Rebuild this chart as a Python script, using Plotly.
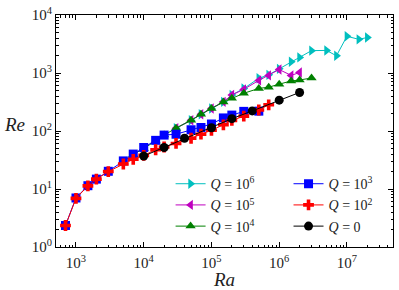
import plotly.graph_objects as go

# ---- data ----
ra_q6 = [3e4, 5e4, 7e4, 1e5, 1.5e5, 2e5, 3e5, 5e5, 7e5, 1e6, 1.5e6, 2e6, 3e6, 5e6, 7e6, 1e7, 1.5e7, 2e7]
re_q6 = [112, 153, 195, 245, 318, 418, 540, 810, 930, 1180, 1560, 1858, 2430, 2450, 1980, 4300, 3800, 4100]

ra_q5 = [3e4, 5e4, 7e4, 1e5, 1.5e5, 2e5, 3e5, 5e5, 7e5, 1e6, 1.5e6, 2e6]
re_q5 = [112, 153, 195, 245, 318, 418, 522, 745, 910, 1148, 910, 1020]

ra_q4 = [7e3, 1e4, 1.5e4, 2e4, 3e4, 5e4, 7e4, 1e5, 1.5e5, 2e5, 3e5, 5e5, 7e5, 1e6, 1.5e6, 2e6, 3e6]
re_q4 = [39, 50, 67, 85, 112, 153, 195, 245, 315, 367, 447, 542, 570, 641, 730, 757, 820]

ra_q3 = [700, 1e3, 1.5e3, 2e3, 3e3, 5e3, 7e3, 1e4, 1.5e4, 2e4, 3e4, 5e4, 7e4, 1e5, 1.5e5, 2e5, 3e5, 5e5]
re_q3 = [2.35, 7.0, 11.4, 14.8, 20.2, 30.5, 40, 52, 69, 85, 88, 105, 115, 132, 168, 188, 218, 220]

ra_q2 = [700, 1e3, 1.5e3, 2e3, 3e3, 5e3, 7e3, 1e4, 1.5e4, 2e4, 3e4, 5e4, 7e4, 1e5, 1.5e5, 2e5, 3e5, 5e5, 7e5]
re_q2 = [2.35, 6.9, 11.3, 14.8, 20, 27, 32.5, 38, 47.5, 53, 61, 75, 88, 103, 128, 152, 180, 230, 283]

ra_q0 = [1e4, 2e4, 4e4, 1e5, 2e5, 4e5, 1e6, 2e6]
re_q0 = [37, 52, 75, 114, 163, 222, 340, 462]

labels = ["<i>Q</i> = 10<sup>6</sup>", "<i>Q</i> = 10<sup>5</sup>", "<i>Q</i> = 10<sup>4</sup>",
          "<i>Q</i> = 10<sup>3</sup>", "<i>Q</i> = 10<sup>2</sup>", "<i>Q</i> = 0"]
colors = ["#00BFBF", "#BF00BF", "#008000", "#0000FF", "#FF0000", "#000000"]
symbols = ["triangle-right", "triangle-left", "triangle-up", "square", "cross", "circle"]

x_tickvals = [1e3, 1e4, 1e5, 1e6, 1e7]
x_ticktext = ["10<sup>3</sup>", "10<sup>4</sup>", "10<sup>5</sup>", "10<sup>6</sup>", "10<sup>7</sup>"]
y_tickvals = [1, 10, 100, 1000, 10000]
y_ticktext = ["10<sup>0</sup>", "10<sup>1</sup>", "10<sup>2</sup>", "10<sup>3</sup>", "10<sup>4</sup>"]

series = [(ra_q6, re_q6), (ra_q5, re_q5), (ra_q4, re_q4), (ra_q3, re_q3), (ra_q2, re_q2), (ra_q0, re_q0)]

FONT = "Liberation Serif"

fig = go.Figure()
for i, ((xs, ys), name, c, s) in enumerate(zip(series, labels, colors, symbols)):
    fig.add_trace(go.Scatter(
        x=xs, y=ys, mode="lines+markers", name=name,
        line=dict(color=c, width=1),
        marker=dict(color=c, symbol=s, size=9, line=dict(width=0)),
        legend="legend" if i < 3 else "legend2",
    ))

axis_common = dict(
    type="log", showline=True, linecolor="black", linewidth=1, mirror="allticks",
    ticks="inside", ticklen=5, tickcolor="black", showgrid=False, zeroline=False,
    tickfont=dict(family=FONT, size=15, color="#222"), ticklabeloverflow="allow",
    minor=dict(ticks="inside", ticklen=2.5, tickcolor="black", dtick="D1", showgrid=False),
)

fig.update_xaxes(range=[2.705, 7.68], tickvals=x_tickvals, ticktext=x_ticktext,
                 ticklabelstandoff=2,
                 title=dict(text="<i>Ra</i>", font=dict(family=FONT, size=19, color="#222"), standoff=0),
                 **axis_common)
fig.update_yaxes(range=[0, 4], tickvals=y_tickvals, ticktext=y_ticktext, **axis_common)

legend_common = dict(
    bgcolor="rgba(0,0,0,0)", borderwidth=0, font=dict(family=FONT, size=14, color="#222"),
    xanchor="left", yanchor="top", tracegroupgap=0, itemwidth=30,
)
fig.update_layout(
    width=399, height=290, autosize=False,
    margin=dict(l=56, r=5, t=10, b=43),
    plot_bgcolor="white", paper_bgcolor="white",
    showlegend=True,
    legend=dict(x=0.34, y=0.34, **legend_common),
    legend2=dict(x=0.69, y=0.34, **legend_common),
    annotations=[dict(text="<i>Re</i>", x=(14 - 56) / 338, y=(247 - 122) / 237,
                      xref="paper", yref="paper", xanchor="center", yanchor="middle",
                      showarrow=False, font=dict(family=FONT, size=19, color="#222"))],
)

fig.write_html("out.html", config={"displayModeBar": False},
               post_script="document.body.style.margin='0';")
